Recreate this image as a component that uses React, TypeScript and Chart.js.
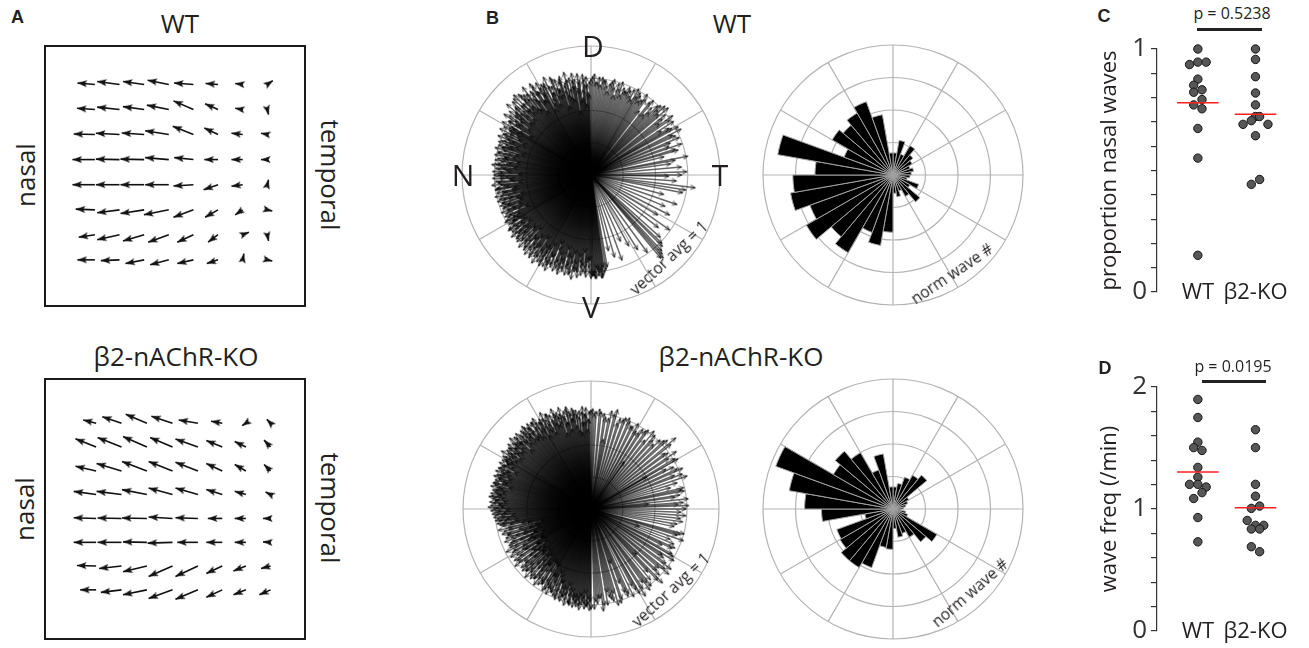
import React, { useEffect, useRef } from "react";
import { Chart, registerables } from "chart.js";

Chart.register(...registerables);

const FONT = "'Open Sans', 'Noto Sans', 'DejaVu Sans', sans-serif";
const BOLD_FONT = "'Liberation Sans', Arial, sans-serif";
const INK = "#231f20";
const GRID = "#b3b3b3";

Chart.defaults.font.family = FONT;
Chart.defaults.color = INK;

// ---------------- Panel A: mean wave direction fields (8 x 8 grid) ----------------
// u = rightward (temporal) component, v = upward component, in grid units
const wtColX = [1.78, 2.77, 3.76, 4.75, 5.74, 6.73, 7.72, 8.71];
const wtRowY = [1.32, 2.33, 3.33, 4.34, 5.35, 6.36, 7.36, 8.37];
const wtU = [
  [-0.7, -0.9, -0.85, -0.85, -0.78, -0.5, -0.3, 0.22],
  [-0.72, -0.9, -0.85, -0.88, -0.8, -0.52, -0.3, 0.05],
  [-0.85, -0.95, -0.9, -0.95, -0.83, -0.55, -0.45, -0.25],
  [-0.9, -0.95, -0.95, -0.95, -0.77, -0.55, -0.45, -0.25],
  [-0.9, -0.95, -0.95, -0.95, -0.8, -0.58, -0.45, 0.05],
  [-0.77, -0.9, -0.95, -1.0, -0.8, -0.52, -0.3, 0.2],
  [-0.65, -0.9, -0.85, -0.83, -0.65, -0.4, 0.25, 0.05],
  [-0.7, -0.75, -0.75, -0.75, -0.65, -0.45, 0.05, 0.2],
];
const wtV = [
  [0.06, 0.12, 0.12, 0.17, 0.06, 0.04, 0.04, 0.15],
  [0.05, 0.1, 0.12, 0.18, 0.35, 0.23, 0.05, -0.2],
  [0.02, 0.05, 0.06, 0.15, 0.33, 0.26, 0.05, 0.05],
  [0.0, 0.02, 0.02, 0.08, 0.08, 0.0, 0.0, 0.0],
  [0.0, 0.0, 0.0, 0.0, -0.05, -0.2, -0.06, 0.2],
  [0.03, -0.12, -0.15, -0.2, -0.3, -0.3, -0.2, -0.05],
  [-0.1, -0.2, -0.25, -0.3, -0.3, -0.3, 0.1, -0.25],
  [0.0, -0.03, -0.15, -0.2, -0.15, -0.15, 0.25, -0.05],
];
const koColX = [1.83, 2.85, 3.87, 4.9, 5.92, 6.9, 7.85, 8.84];
const koRowY = [1.55, 2.51, 3.47, 4.42, 5.38, 6.34, 7.29, 8.25];
const koU = [
  [-0.52, -0.77, -0.85, -0.85, -0.77, -0.45, -0.15, -0.15],
  [-0.83, -0.96, -0.96, -0.9, -0.9, -0.64, -0.45, -0.26],
  [-0.83, -1.0, -1.0, -0.96, -0.9, -0.64, -0.45, -0.26],
  [-0.9, -1.0, -1.0, -0.96, -0.9, -0.64, -0.45, -0.2],
  [-0.9, -0.96, -1.0, -0.96, -0.9, -0.58, -0.45, -0.3],
  [-0.9, -0.96, -0.96, -1.0, -0.83, -0.64, -0.45, -0.3],
  [-0.77, -0.9, -0.96, -0.96, -0.9, -0.64, -0.5, -0.38],
  [-0.64, -0.83, -0.96, -0.96, -0.9, -0.64, -0.5, -0.45],
];
const koV = [
  [0.13, 0.26, 0.36, 0.28, 0.13, 0.08, -0.1, 0.15],
  [0.33, 0.38, 0.42, 0.38, 0.32, 0.26, 0.22, 0.28],
  [0.19, 0.3, 0.38, 0.38, 0.35, 0.3, 0.26, 0.26],
  [0.13, 0.13, 0.2, 0.26, 0.26, 0.2, 0.13, 0.1],
  [0.03, 0.02, 0.02, 0.06, 0.03, 0.0, 0.0, 0.0],
  [0.0, 0.0, 0.02, -0.03, 0.0, 0.0, 0.0, 0.02],
  [0.02, -0.1, -0.23, -0.42, -0.42, -0.3, -0.2, -0.1],
  [0.0, -0.1, -0.2, -0.35, -0.38, -0.3, -0.2, -0.2],
];

// ---------------- Panel B: individual wave vectors ----------------
// Nasal half: waves every degree from 91° (set 1) and from 91.5° (set 2) to ~269° (0° = T, 90° = D)
const nasalStartDeg = 91;
const wtNasalLengths = [
  0.72, 0.64, 0.76, 0.7, 0.78, 0.6, 0.74, 0.79, 0.66, 0.75,
  0.8, 0.7, 0.77, 0.62, 0.82, 0.74, 0.68, 0.8, 0.76, 0.71,
  0.79, 0.66, 0.82, 0.75, 0.7, 0.84, 0.62, 0.78, 0.8, 0.72,
  0.83, 0.68, 0.77, 0.85, 0.7, 0.8, 0.74, 0.86, 0.66, 0.81,
  0.78, 0.84, 0.7, 0.86, 0.76, 0.62, 0.83, 0.79, 0.72, 0.85,
  0.74, 0.8, 0.68, 0.78, 0.82, 0.7, 0.76, 0.64, 0.8, 0.73,
  0.77, 0.7, 0.79, 0.62, 0.75, 0.72, 0.78, 0.68, 0.74, 0.76,
  0.66, 0.75, 0.72, 0.77, 0.6, 0.74, 0.7, 0.76, 0.68, 0.73,
  0.75, 0.64, 0.72, 0.77, 0.7, 0.74, 0.66, 0.76, 0.72, 0.75,
  0.7, 0.76, 0.63, 0.74, 0.72, 0.77, 0.68, 0.73, 0.75, 0.62,
  0.74, 0.7, 0.76, 0.66, 0.73, 0.75, 0.6, 0.72, 0.74, 0.69,
  0.73, 0.66, 0.75, 0.7, 0.62, 0.74, 0.72, 0.68, 0.76, 0.7,
  0.74, 0.64, 0.72, 0.77, 0.7, 0.75, 0.66, 0.78, 0.72, 0.74,
  0.68, 0.77, 0.73, 0.62, 0.79, 0.74, 0.7, 0.78, 0.66, 0.8,
  0.75, 0.72, 0.8, 0.68, 0.77, 0.82, 0.7, 0.79, 0.74, 0.81,
  0.66, 0.8, 0.76, 0.82, 0.7, 0.78, 0.63, 0.8, 0.77, 0.74,
  0.81, 0.72, 0.78, 0.66, 0.8, 0.75, 0.79, 0.7, 0.82, 0.76,
  0.74, 0.8, 0.68, 0.78, 0.75, 0.72, 0.79, 0.66, 0.76,
];
const wtNasalLengths2 = [
  0.62, 0.7, 0.55, 0.74, 0.66, 0.58, 0.72, 0.68, 0.5, 0.7,
  0.74, 0.6, 0.68, 0.76, 0.64, 0.72, 0.56, 0.78, 0.66, 0.7,
  0.72, 0.8, 0.6, 0.7, 0.76, 0.66, 0.8, 0.58, 0.74, 0.78,
  0.68, 0.76, 0.82, 0.6, 0.78, 0.72, 0.64, 0.8, 0.76, 0.7,
  0.82, 0.66, 0.76, 0.7, 0.84, 0.72, 0.68, 0.78, 0.62, 0.76,
  0.7, 0.74, 0.6, 0.72, 0.68, 0.76, 0.56, 0.72, 0.7, 0.66,
  0.72, 0.64, 0.7, 0.74, 0.58, 0.7, 0.66, 0.72, 0.62, 0.7,
  0.68, 0.72, 0.56, 0.7, 0.66, 0.74, 0.62, 0.68, 0.7, 0.58,
  0.7, 0.66, 0.74, 0.6, 0.68, 0.72, 0.64, 0.7, 0.56, 0.72,
  0.66, 0.7, 0.62, 0.72, 0.56, 0.7, 0.66, 0.74, 0.6, 0.7,
  0.68, 0.62, 0.72, 0.56, 0.7, 0.66, 0.72, 0.58, 0.68, 0.72,
  0.6, 0.7, 0.66, 0.72, 0.56, 0.7, 0.64, 0.74, 0.66, 0.7,
  0.72, 0.62, 0.76, 0.66, 0.72, 0.6, 0.74, 0.7, 0.64, 0.76,
  0.7, 0.6, 0.74, 0.68, 0.72, 0.58, 0.76, 0.66, 0.74, 0.7,
  0.62, 0.78, 0.7, 0.74, 0.6, 0.76, 0.72, 0.66, 0.78, 0.7,
  0.74, 0.62, 0.78, 0.7, 0.76, 0.58, 0.74, 0.72, 0.66, 0.78,
  0.7, 0.76, 0.6, 0.74, 0.72, 0.66, 0.78, 0.62, 0.74, 0.7,
  0.76, 0.64, 0.72, 0.7, 0.6, 0.76, 0.68, 0.72, 0.66,
];
const koNasalLengths = [
  0.76, 0.7, 0.79, 0.74, 0.8, 0.68, 0.77, 0.62, 0.78, 0.75,
  0.8, 0.72, 0.78, 0.82, 0.7, 0.79, 0.76, 0.83, 0.72, 0.8,
  0.78, 0.84, 0.74, 0.8, 0.7, 0.82, 0.78, 0.85, 0.74, 0.81,
  0.79, 0.72, 0.84, 0.77, 0.82, 0.7, 0.83, 0.8, 0.76, 0.84,
  0.78, 0.82, 0.74, 0.8, 0.83, 0.76, 0.82, 0.78, 0.84, 0.8,
  0.76, 0.82, 0.79, 0.74, 0.8, 0.78, 0.83, 0.75, 0.8, 0.77,
  0.79, 0.74, 0.8, 0.77, 0.72, 0.79, 0.76, 0.8, 0.74, 0.78,
  0.8, 0.75, 0.78, 0.72, 0.79, 0.77, 0.8, 0.74, 0.78, 0.76,
  0.79, 0.74, 0.8, 0.77, 0.75, 0.79, 0.72, 0.78, 0.8, 0.76,
  0.78, 0.74, 0.77, 0.7, 0.76, 0.73, 0.75, 0.68, 0.74, 0.72,
  0.7, 0.5, 0.74, 0.66, 0.45, 0.72, 0.68, 0.55, 0.7, 0.66,
  0.72, 0.48, 0.68, 0.7, 0.52, 0.66, 0.74, 0.6, 0.7, 0.45,
  0.73, 0.68, 0.5, 0.72, 0.7, 0.55, 0.74, 0.66, 0.48, 0.71,
  0.68, 0.72, 0.52, 0.7, 0.66, 0.74, 0.5, 0.7, 0.72, 0.58,
  0.7, 0.66, 0.74, 0.55, 0.72, 0.68, 0.7, 0.5, 0.74, 0.72,
  0.6, 0.75, 0.7, 0.72, 0.55, 0.74, 0.7, 0.76, 0.62, 0.74,
  0.76, 0.72, 0.7, 0.78, 0.66, 0.75, 0.77, 0.7, 0.78, 0.74,
  0.77, 0.72, 0.79, 0.75, 0.7, 0.78, 0.76, 0.74, 0.79,
];
const koNasalLengths2 = [
  0.7, 0.62, 0.74, 0.68, 0.76, 0.6, 0.72, 0.74, 0.66, 0.78,
  0.72, 0.76, 0.64, 0.8, 0.7, 0.74, 0.62, 0.78, 0.76, 0.7,
  0.8, 0.72, 0.76, 0.66, 0.82, 0.74, 0.7, 0.8, 0.66, 0.78,
  0.74, 0.8, 0.68, 0.82, 0.72, 0.76, 0.8, 0.7, 0.82, 0.74,
  0.8, 0.7, 0.78, 0.74, 0.66, 0.8, 0.76, 0.72, 0.78, 0.7,
  0.76, 0.72, 0.8, 0.68, 0.76, 0.74, 0.7, 0.78, 0.72, 0.76,
  0.74, 0.7, 0.76, 0.66, 0.78, 0.72, 0.74, 0.7, 0.76, 0.68,
  0.76, 0.72, 0.7, 0.78, 0.66, 0.74, 0.72, 0.76, 0.7, 0.74,
  0.72, 0.78, 0.7, 0.74, 0.68, 0.76, 0.72, 0.7, 0.74, 0.66,
  0.72, 0.68, 0.74, 0.62, 0.7, 0.66, 0.72, 0.6, 0.7, 0.64,
  0.55, 0.66, 0.4, 0.7, 0.58, 0.5, 0.68, 0.44, 0.62, 0.56,
  0.48, 0.66, 0.6, 0.42, 0.7, 0.55, 0.5, 0.68, 0.45, 0.62,
  0.6, 0.5, 0.66, 0.56, 0.44, 0.7, 0.6, 0.52, 0.66, 0.58,
  0.5, 0.64, 0.7, 0.46, 0.6, 0.68, 0.55, 0.62, 0.48, 0.7,
  0.62, 0.55, 0.68, 0.6, 0.5, 0.7, 0.58, 0.66, 0.52, 0.68,
  0.7, 0.6, 0.64, 0.72, 0.66, 0.58, 0.74, 0.62, 0.7, 0.66,
  0.72, 0.66, 0.74, 0.62, 0.7, 0.76, 0.66, 0.72, 0.7, 0.74,
  0.7, 0.76, 0.68, 0.72, 0.74, 0.66, 0.76, 0.7, 0.72,
];
// Temporal half: [angle deg, length]
const wtTemporalVectors: [number, number][] = [
  [-90, 0.8], [-89, 0.78], [-88, 0.78], [-87, 0.8], [-86, 0.74], [-85, 0.76], [-84, 0.8], [-83, 0.78],
  [-82, 0.76], [-81, 0.74], [-80, 0.72], [-77, 0.6], [-74, 0.66], [-70, 0.7], [-66, 0.56], [-62, 0.62],
  [-58, 0.68], [-54, 0.74], [-50, 0.84], [-49, 0.85], [-48, 0.82], [-47, 0.8], [-45, 0.78], [-44, 0.76],
  [-42, 0.72], [-38, 0.66], [-35, 0.74], [-31, 0.6], [-27, 0.68], [-23, 0.62], [-19, 0.7], [-15, 0.58],
  [-11, 0.72], [-9, 0.74], [-7, 0.81], [-4, 0.66], [-1, 0.6], [0, 0.7], [2, 0.74], [5, 0.7], [8, 0.62],
  [10, 0.66], [11, 0.76], [14, 0.58], [17, 0.68], [20, 0.64], [23, 0.74], [26, 0.7], [29, 0.77], [30, 0.72],
  [32, 0.64], [35, 0.74], [36, 0.78], [38, 0.7], [41, 0.79], [44, 0.72], [45, 0.76], [47, 0.66], [50, 0.75],
  [53, 0.62], [54, 0.72], [56, 0.7], [59, 0.74], [62, 0.66], [63, 0.74], [65, 0.72], [68, 0.7], [71, 0.76],
  [72, 0.7], [74, 0.64], [77, 0.74], [80, 0.7], [81, 0.74], [83, 0.76], [86, 0.72], [88, 0.78], [90, 0.74],
  [16, 0.7], [19, 0.74], [22, 0.66], [25, 0.72], [27, 0.78], [31, 0.7], [33, 0.76], [37, 0.66], [39, 0.74],
  [42, 0.7], [43, 0.78], [46, 0.74], [48, 0.7], [49, 0.62], [51, 0.72], [55, 0.76], [57, 0.68], [58, 0.72],
  [60, 0.7], [61, 0.76], [64, 0.68], [66, 0.74], [67, 0.7], [69, 0.72], [70, 0.66], [73, 0.74], [75, 0.7],
  [76, 0.76], [78, 0.72], [79, 0.66], [82, 0.74], [84, 0.7], [85, 0.76], [87, 0.72], [89, 0.76],
  [-89.5, 0.78], [-88.5, 0.76], [-87.5, 0.8], [-86.5, 0.72], [-85.5, 0.78], [-84.5, 0.74], [-83.5, 0.8], [-82.5, 0.72],
];
const koTemporalVectors: [number, number][] = [
  [-90, 0.78], [-88, 0.78], [-87, 0.72], [-85, 0.7], [-83, 0.8], [-82, 0.76], [-79, 0.66], [-78, 0.7],
  [-76, 0.74], [-74, 0.78], [-72, 0.77], [-69, 0.62], [-67, 0.74], [-66, 0.72], [-62, 0.68], [-60, 0.76],
  [-58, 0.8], [-55, 0.7], [-53, 0.72], [-52, 0.76], [-48, 0.66], [-46, 0.8], [-44, 0.74], [-41, 0.7],
  [-40, 0.79], [-37, 0.78], [-34, 0.68], [-32, 0.76], [-30, 0.74], [-27, 0.62], [-25, 0.72], [-23, 0.7],
  [-19, 0.76], [-17, 0.7], [-15, 0.75], [-12, 0.66], [-8, 0.72], [-6, 0.7], [-4, 0.74], [0, 0.74],
  [2, 0.76], [3, 0.68], [6, 0.76], [9, 0.7], [12, 0.72], [13, 0.74], [15, 0.64], [19, 0.79], [22, 0.7],
  [24, 0.78], [25, 0.74], [28, 0.66], [31, 0.76], [33, 0.72], [34, 0.8], [37, 0.72], [40, 0.86], [42, 0.8],
  [43, 0.78], [46, 0.7], [49, 0.76], [51, 0.78], [52, 0.68], [55, 0.74], [58, 0.7], [60, 0.7], [61, 0.76],
  [64, 0.72], [66, 0.74], [67, 0.77], [70, 0.74], [73, 0.7], [75, 0.8], [76, 0.76], [79, 0.72], [82, 0.75],
  [84, 0.76], [85, 0.78], [88, 0.74], [89, 0.78], [90, 0.77],
  [-70, 0.45], [-45, 0.5], [-20, 0.4], [5, 0.45], [30, 0.5], [55, 0.45], [80, 0.55],
  [-86, 0.74], [-84, 0.7], [-80, 0.76], [-77, 0.72], [-75, 0.68], [-71, 0.74], [-68, 0.7], [-64, 0.76],
  [-61, 0.72], [-57, 0.74], [-54, 0.78], [-50, 0.72], [-47, 0.76], [-43, 0.7], [-39, 0.74], [-36, 0.72],
  [-33, 0.66], [-29, 0.72], [-26, 0.7], [-21, 0.66], [-16, 0.72], [-10, 0.68], [-2, 0.7], [4, 0.72],
  [8, 0.66], [11, 0.74], [17, 0.7], [21, 0.76], [27, 0.72], [30, 0.78], [36, 0.74], [39, 0.8],
  [45, 0.76], [48, 0.72], [54, 0.76], [57, 0.74], [63, 0.72], [69, 0.76], [72, 0.74], [78, 0.78],
  [81, 0.72], [87, 0.76],
];
const polarSpokes = ["D", "", "", "T", "", "", "V", "", "", "N", "", ""];

// ---------------- Panel B: rose histograms, 10° bins clockwise from dorsal ----------------
const roseBins = [
  "0", "10", "20", "30", "40", "50", "60", "70", "80", "90", "100", "110",
  "120", "130", "140", "150", "160", "170", "180", "190", "200", "210", "220", "230",
  "240", "250", "260", "270", "280", "290", "300", "310", "320", "330", "340", "350",
];
const wtRose = [
  0.17, 0.27, 0.17, 0.26, 0.2, 0.17, 0.14, 0.16, 0.14, 0.13, 0.11, 0.21,
  0.15, 0.27, 0.19, 0.13, 0.17, 0.14, 0.44, 0.55, 0.47, 0.69, 0.62, 0.77,
  0.68, 0.8, 0.77, 0.6, 0.9, 0.4, 0.54, 0.5, 0.55, 0.6, 0.47, 0.17,
];
const koRose = [
  0.17, 0.2, 0.26, 0.3, 0.34, 0.14, 0.12, 0.1, 0.08, 0.06, 0.1, 0.12,
  0.39, 0.33, 0.25, 0.2, 0.22, 0.15, 0.31, 0.3, 0.48, 0.52, 0.52, 0.47,
  0.46, 0.22, 0.55, 0.68, 0.81, 0.96, 0.53, 0.58, 0.5, 0.32, 0.43, 0.17,
];

// ---------------- Panels C, D ----------------
const groups = ["WT", "β2-KO"];
const propWT = [1.0, 0.936, 0.946, 0.946, 0.876, 0.851, 0.832, 0.822, 0.792, 0.77, 0.754, 0.673, 0.551, 0.151];
const propWTJitter = [0, -2, 0, 2, 0, -1, 1, -1, 1, -1, 1, 0, 0, 0];
const propKO = [1.0, 0.957, 0.886, 0.819, 0.77, 0.722, 0.722, 0.705, 0.69, 0.69, 0.643, 0.463, 0.443];
const propKOJitter = [0, 0, 0, 0, 0, 0, 1, -1, -3, 3, 0, 1, -1];
const freqWT = [1.898, 1.75, 1.548, 1.503, 1.48, 1.341, 1.261, 1.202, 1.202, 1.18, 1.134, 1.086, 0.93, 0.731];
const freqWTJitter = [0, 0, 0, -1, 1, 0, 0, -2, 0, 2, 1, -1, 0, 0];
const freqKO = [1.65, 1.503, 1.202, 1.105, 1.005, 1.024, 0.906, 0.866, 0.866, 0.836, 0.836, 0.691, 0.65];
const freqKOJitter = [0, 0, 0, 0, -1, 1, -2, 0, 2, -1, 1, -1, 1];

// ---------------- helpers ----------------
function filledHead(): HTMLCanvasElement {
  const c = document.createElement("canvas");
  c.width = 9;
  c.height = 20;
  const g = c.getContext("2d")!;
  g.fillStyle = "#111";
  g.beginPath();
  g.moveTo(4.5, 10);
  g.lineTo(1, 19.5);
  g.lineTo(4.5, 17.5);
  g.lineTo(8, 19.5);
  g.closePath();
  g.fill();
  return c;
}

function openHead(): HTMLCanvasElement {
  const c = document.createElement("canvas");
  c.width = 8;
  c.height = 12;
  const g = c.getContext("2d")!;
  g.strokeStyle = "rgba(0,0,0,0.6)";
  g.lineWidth = 1.1;
  g.beginPath();
  g.moveTo(1.8, 10.5);
  g.lineTo(4, 6);
  g.lineTo(6.2, 10.5);
  g.stroke();
  return c;
}

function arrowDataset(x0: number, y0: number, x1: number, y1: number, rot: number, color: string, width: number, head: HTMLCanvasElement) {
  return {
    data: [{ x: x0, y: y0 }, { x: x1, y: y1 }],
    showLine: true,
    borderColor: color,
    backgroundColor: color,
    borderWidth: width,
    pointRadius: [0, 3],
    pointHoverRadius: 0,
    pointStyle: head,
    pointRotation: [0, rot],
    clip: false,
  };
}

const baseOpts = {
  responsive: false,
  animation: false as const,
  events: [] as any[],
  plugins: { legend: { display: false }, tooltip: { enabled: false } },
};

function quiverConfig(colX: number[], rowY: number[], U: number[][], V: number[][]) {
  const head = filledHead();
  const datasets: any[] = [];
  rowY.forEach((y, r) => {
    colX.forEach((x, c) => {
      const u = U[r][c];
      const v = V[r][c];
      const rot = (Math.atan2(u, v) * 180) / Math.PI;
      datasets.push(arrowDataset(x, y, x + u, y - v, rot, "#111", 1.6, head));
    });
  });
  return {
    type: "scatter",
    data: { datasets },
    options: {
      ...baseOpts,
      layout: { padding: 0 },
      scales: {
        x: { type: "linear", display: false, min: 0, max: 10 },
        y: { type: "linear", display: false, min: 0, max: 10, reverse: true },
      },
    },
  };
}

function vectorConfig(nasal1: number[], nasal2: number[], temporal: [number, number][]) {
  const head = openHead();
  const all: [number, number][] = [
    ...nasal1.map((len, i) => [nasalStartDeg + i, len] as [number, number]),
    ...nasal2.map((len, i) => [nasalStartDeg + 0.5 + i, len] as [number, number]),
    ...temporal,
  ];
  const datasets = all.map(([ang, len]) => {
    const t = (ang * Math.PI) / 180;
    const x = len * Math.cos(t);
    const y = len * Math.sin(t);
    const rot = (Math.atan2(x, y) * 180) / Math.PI;
    return arrowDataset(0, 0, x, y, rot, "rgba(0,0,0,0.6)", 1.5, head);
  });
  return {
    type: "scatter",
    data: { labels: polarSpokes, datasets },
    options: {
      ...baseOpts,
      layout: { padding: 3 },
      scales: {
        x: { type: "linear", display: false, min: -1, max: 1 },
        y: { type: "linear", display: false, min: -1, max: 1 },
        r: {
          type: "radialLinear",
          min: 0,
          max: 1,
          ticks: { display: false, stepSize: 0.25 },
          grid: { circular: true, color: GRID, lineWidth: 1.2 },
          angleLines: { display: true, color: GRID, lineWidth: 1.2 },
          pointLabels: { display: false },
        },
      },
    },
  };
}

function roseConfig(values: number[]) {
  return {
    type: "polarArea",
    data: {
      labels: roseBins,
      datasets: [{ data: values, backgroundColor: "#000", borderColor: "#a3a3a3", borderWidth: 1 }],
    },
    options: {
      ...baseOpts,
      layout: { padding: 3 },
      scales: {
        r: {
          min: 0,
          max: 1,
          ticks: { display: false, stepSize: 0.25 },
          grid: { circular: true, color: GRID, lineWidth: 1.2 },
          angleLines: {
            display: true,
            lineWidth: 1.2,
            color: (c: any) => (c.index % 3 === 0 ? GRID : "rgba(0,0,0,0)"),
          },
          pointLabels: { display: false },
        },
      },
    },
  };
}

function stripConfig(wt: number[], wtJ: number[], ko: number[], koJ: number[], yMax: number, yStep: number, title: string, padTop: number) {
  const mean = (a: number[]) => a.reduce((s, v) => s + v, 0) / a.length;
  const JIT = 0.072;
  const HALF = 0.36;
  const pts = (vals: number[], jit: number[], cx: number) => vals.map((v, i) => ({ x: cx + jit[i] * JIT, y: v }));
  const meanLine = (vals: number[], cx: number) => ({
    data: [{ x: cx - HALF, y: mean(vals) }, { x: cx + HALF, y: mean(vals) }],
    showLine: true,
    borderColor: "#ff1f1f",
    borderWidth: 1.5,
    pointRadius: 0,
    pointHoverRadius: 0,
    clip: false,
  });
  const dots = (vals: number[], jit: number[], cx: number) => ({
    data: pts(vals, jit, cx),
    pointRadius: 4.2,
    pointHoverRadius: 4.2,
    backgroundColor: "#575757",
    borderColor: "#151515",
    borderWidth: 1,
    clip: false,
  });
  return {
    type: "scatter",
    data: { datasets: [meanLine(wt, 1), meanLine(ko, 2), dots(wt, wtJ, 1), dots(ko, koJ, 2)] },
    options: {
      ...baseOpts,
      layout: { padding: { top: padTop, left: 0, right: 0, bottom: 0 } },
      scales: {
        x: {
          type: "linear",
          min: 0.2915,
          max: 2.838,
          afterBuildTicks: (axis: any) => {
            axis.ticks = [{ value: 1 }, { value: 2 }];
          },
          ticks: {
            callback: (v: any) => groups[Math.round(v) - 1] ?? "",
            font: { family: FONT, size: 22 },
            color: INK,
            mirror: true,
            padding: -14,
            autoSkip: false,
            maxRotation: 0,
          },
          grid: { display: false, drawTicks: false },
          border: { display: false },
          afterFit: (s: any) => {
            s.height = 13;
          },
        },
        y: {
          type: "linear",
          min: 0,
          max: yMax,
          ticks: {
            stepSize: yStep,
            autoSkip: false,
            callback: (v: any) => (Math.abs(v - Math.round(v)) < 1e-6 ? String(Math.round(v)) : ""),
            font: { family: FONT, size: 26, lineHeight: 1 },
            color: "#333",
            padding: 4,
          },
          grid: { display: true, drawOnChartArea: false, drawTicks: true, tickLength: 6, color: "#333", lineWidth: 1.2 },
          border: { display: true, color: "#333", width: 1.2 },
          title: { display: true, text: title, font: { family: FONT, size: 22 }, color: INK, padding: { top: 4, bottom: 4 } },
          afterFit: (s: any) => {
            s.width = 64;
          },
        },
      },
    },
  };
}

function ChartCanvas({ make, left, top, width, height }: { make: () => any; left: number; top: number; width: number; height: number }) {
  const ref = useRef<HTMLCanvasElement>(null);
  useEffect(() => {
    const chart = new Chart(ref.current as HTMLCanvasElement, make());
    return () => chart.destroy();
  }, []);
  return (
    <canvas
      ref={ref}
      width={width}
      height={height}
      style={{ position: "absolute", left, top, width, height }}
    />
  );
}

function Label({ x, y, text, size, rot = 0, bold = false, family = FONT }: { x: number; y: number; text: string; size: number; rot?: number; bold?: boolean; family?: string }) {
  return (
    <div
      style={{
        position: "absolute",
        left: x,
        top: y,
        transform: `translate(-50%, -50%) rotate(${rot}deg)`,
        fontFamily: family,
        fontSize: size,
        fontWeight: bold ? 700 : 400,
        lineHeight: 1,
        whiteSpace: "nowrap",
        color: INK,
      }}
    >
      {text}
    </div>
  );
}

function QuiverBox({ left, top, colX, rowY, U, V }: { left: number; top: number; colX: number[]; rowY: number[]; U: number[][]; V: number[][] }) {
  return (
    <div style={{ position: "absolute", left, top, width: 262, height: 262, boxSizing: "border-box", border: "2px solid #1a1a1a" }}>
      <ChartCanvas make={() => quiverConfig(colX, rowY, U, V)} left={0} top={0} width={258} height={258} />
    </div>
  );
}

export default function App() {
  return (
    <div style={{ position: "absolute", left: 0, top: 0, width: 1309, height: 648, overflow: "hidden", background: "#fff" }}>
      {/* Panel A */}
      <QuiverBox left={44} top={45} colX={wtColX} rowY={wtRowY} U={wtU} V={wtV} />
      <QuiverBox left={44} top={378} colX={koColX} rowY={koRowY} U={koU} V={koV} />

      {/* Panel B */}
      <ChartCanvas make={() => vectorConfig(wtNasalLengths, wtNasalLengths2, wtTemporalVectors)} left={457} top={41} width={268} height={268} />
      <ChartCanvas make={() => vectorConfig(koNasalLengths, koNasalLengths2, koTemporalVectors)} left={458} top={376} width={266} height={266} />
      <ChartCanvas make={() => roseConfig(wtRose)} left={760} top={42} width={266} height={266} />
      <ChartCanvas make={() => roseConfig(koRose)} left={760} top={376} width={266} height={266} />

      {/* Panels C, D */}
      <ChartCanvas
        make={() => stripConfig(propWT, propWTJitter, propKO, propKOJitter, 1, 0.1, "proportion nasal waves", 19)}
        left={1093}
        top={30}
        width={216}
        height={279}
      />
      <ChartCanvas
        make={() => stripConfig(freqWT, freqWTJitter, freqKO, freqKOJitter, 2, 0.2, "wave freq (/min)", 20)}
        left={1093}
        top={367}
        width={216}
        height={281}
      />

      {/* text */}
      <Label x={17.5} y={16.5} text="A" size={18} bold family={BOLD_FONT} />
      <Label x={492.5} y={17.5} text="B" size={18} bold family={BOLD_FONT} />
      <Label x={1104} y={16} text="C" size={18} bold family={BOLD_FONT} />
      <Label x={1105} y={367.5} text="D" size={18} bold family={BOLD_FONT} />

      <Label x={180} y={23} text="WT" size={26} />
      <Label x={176} y={356} text="β2-nAChR-KO" size={26} />
      <Label x={25} y={175} text="nasal" size={26} rot={-90} />
      <Label x={331} y={175} text="temporal" size={26} rot={90} />
      <Label x={24} y={509} text="nasal" size={26} rot={-90} />
      <Label x={331} y={508} text="temporal" size={26} rot={90} />

      <Label x={732} y={23} text="WT" size={26} />
      <Label x={741} y={356} text="β2-nAChR-KO" size={26} />
      <Label x={593} y={46} text="D" size={30} />
      <Label x={591} y={307} text="V" size={30} />
      <Label x={463} y={175} text="N" size={30} />
      <Label x={720} y={175} text="T" size={30} />
      <Label x={669} y={258} text="vector avg = 1" size={15.5} rot={-43} />
      <Label x={671} y={590} text="vector avg = 1" size={15.5} rot={-43} />
      <Label x={952} y={274} text="norm wave #" size={15.5} rot={-34} />
      <Label x={970} y={593} text="norm wave #" size={15.5} rot={-41} />

      <Label x={1232} y={13} text="p = 0.5238" size={16} />
      <div style={{ position: "absolute", left: 1197, top: 27.5, width: 65, height: 3, background: "#222" }} />
      <Label x={1233} y={366} text="p = 0.0195" size={16} />
      <div style={{ position: "absolute", left: 1202, top: 379.5, width: 64, height: 3.5, background: "#222" }} />
    </div>
  );
}
